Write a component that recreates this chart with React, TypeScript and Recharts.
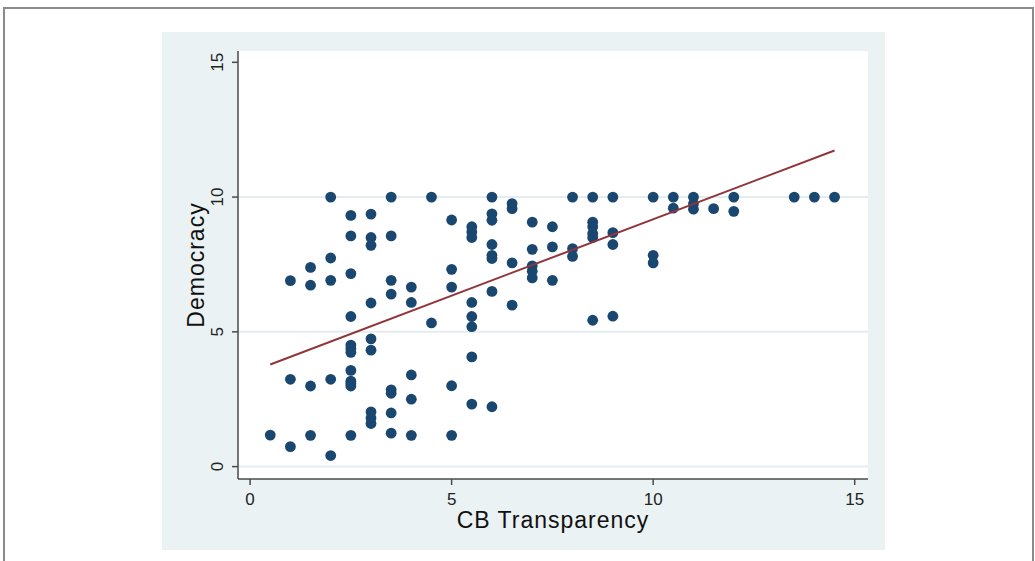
import { ScatterChart, Scatter, XAxis, YAxis, CartesianGrid } from "recharts";

// Stata-style scatter: Democracy vs CB Transparency with linear fit.
const transparencyLevels = [
  0.5, 1, 1.5, 2, 2.5, 3, 3.5, 4, 4.5, 5, 5.5, 6, 6.5, 7, 7.5, 8, 8.5, 9, 10,
  10.5, 11, 11.5, 12, 13.5, 14, 14.5,
];
const democracyAtLevel = [
  [1.17],
  [6.9, 3.24, 0.74],
  [7.39, 6.73, 2.99, 1.16],
  [10, 7.74, 6.91, 3.24, 0.41],
  [9.32, 8.56, 7.16, 5.57, 4.51, 4.38, 4.24, 3.57, 3.17, 3.08, 2.99, 1.16],
  [9.37, 8.5, 8.21, 6.07, 4.74, 4.32, 2.03, 1.8, 1.6],
  [10, 8.56, 6.91, 6.4, 2.85, 2.72, 1.99, 1.24],
  [6.66, 6.09, 3.4, 2.5, 1.16],
  [10, 5.33],
  [9.15, 7.32, 6.66, 3.0, 1.16],
  [8.9, 8.7, 8.5, 6.09, 5.57, 5.19, 4.07, 2.32],
  [10, 9.38, 9.14, 8.24, 7.84, 7.72, 6.5, 2.22],
  [9.76, 9.57, 7.56, 5.99],
  [9.07, 8.06, 7.45, 7.25, 7.0],
  [8.9, 8.15, 6.91],
  [10, 8.09, 7.8],
  [10, 9.07, 8.9, 8.65, 8.5, 5.43],
  [10, 8.68, 8.24, 5.58],
  [10, 7.84, 7.56],
  [10, 9.59],
  [10, 9.75, 9.55],
  [9.57],
  [10, 9.47],
  [10],
  [10],
  [10],
];
const fitX = [0.5, 14.5];
const fitY = [3.79, 11.73];
const axisTicks = [0, 5, 10, 15];

const points = transparencyLevels.flatMap((x, i) =>
  democracyAtLevel[i].map((y) => ({ x, y }))
);
const fitLine = fitX.map((x, i) => ({ x, y: fitY[i] }));

const FONT = '"Liberation Sans", Arial, sans-serif';
const AXIS = "#4a4a4a";

function XTick(props: any) {
  const { x, y, payload } = props;
  return (
    <text x={x} y={y + 18} textAnchor="middle" fontSize={17} fill="#222" fontFamily={FONT}>
      {payload.value}
    </text>
  );
}

function YTick(props: any) {
  const { x, y, payload } = props;
  const tx = x - 7;
  return (
    <text
      x={tx}
      y={y}
      transform={`rotate(-90, ${tx}, ${y})`}
      textAnchor="middle"
      fontSize={17}
      fill="#222"
      fontFamily={FONT}
    >
      {payload.value}
    </text>
  );
}

const Dot = (props: any) => (
  <circle cx={props.cx} cy={props.cy} r={5.4} fill="#1a476f" />
);

export default function App() {
  return (
    <div style={{ position: "absolute", left: 0, top: 0, width: 1035, height: 561, background: "#fff", overflow: "hidden" }}>
      <div
        style={{
          position: "absolute",
          left: 3,
          top: 7,
          width: 1027,
          height: 600,
          border: "2px solid #8a8a8a",
        }}
      />
      <div style={{ position: "absolute", left: 162, top: 32, width: 723, height: 518, background: "#eaf2f3" }}>
        <ScatterChart width={723} height={518} margin={{ top: 19, right: 17, left: 0, bottom: 0 }}>
          <CartesianGrid
            vertical={false}
            horizontalValues={[0, 5, 10]}
            stroke="#e3ecee"
            strokeWidth={2}
            fill="#ffffff"
          />
          <XAxis
            type="number"
            dataKey="x"
            domain={[-0.3, 15.33]}
            ticks={axisTicks}
            allowDataOverflow
            height={71}
            stroke={AXIS}
            strokeWidth={1.5}
            tickSize={6}
            tick={<XTick />}
            label={{
              content: (p: any) => {
                const vb = p.viewBox || { x: 76, width: 630 };
                return (
                  <text
                    x={vb.x + vb.width / 2}
                    y={496}
                    textAnchor="middle"
                    fontSize={23}
                    letterSpacing={1}
                    fill="#111"
                    fontFamily={FONT}
                  >
                    CB Transparency
                  </text>
                );
              },
            }}
          />
          <YAxis
            type="number"
            dataKey="y"
            domain={[-0.46, 15.42]}
            ticks={axisTicks}
            allowDataOverflow
            width={76}
            stroke={AXIS}
            strokeWidth={1.5}
            tickSize={6}
            tick={<YTick />}
            label={{
              content: (p: any) => {
                const vb = p.viewBox || { y: 19, height: 428 };
                const cy = vb.y + vb.height / 2;
                return (
                  <text
                    x={42}
                    y={cy}
                    transform={`rotate(-90, 42, ${cy})`}
                    textAnchor="middle"
                    fontSize={23}
                    letterSpacing={1}
                    fill="#111"
                    fontFamily={FONT}
                  >
                    Democracy
                  </text>
                );
              },
            }}
          />
          <Scatter data={points} shape={<Dot />} isAnimationActive={false} />
          <Scatter
            data={fitLine}
            line={{ stroke: "#90353b", strokeWidth: 2 }}
            shape={() => <g />}
            isAnimationActive={false}
          />
        </ScatterChart>
      </div>
    </div>
  );
}
